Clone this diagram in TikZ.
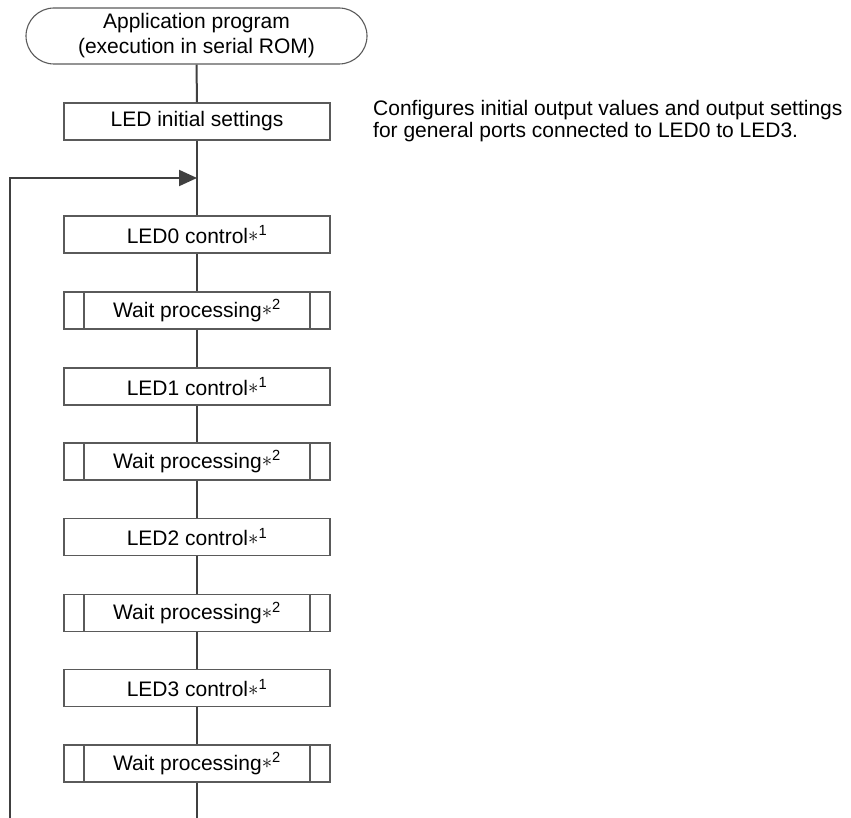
\documentclass[tikz,border=0pt]{standalone}
\usepackage{fontspec}
\setmainfont{Liberation Sans}
\usetikzlibrary{arrows.meta,positioning}

\definecolor{flowline}{HTML}{404040}
\definecolor{boxedge}{HTML}{5A5A5A}

\newcommand{\noteast}[1]{\raisebox{0.15ex}{$\ast$}\textsuperscript{#1}}

\tikzset{
  basefont/.style={font=\fontsize{21}{22}\selectfont},
  stepbox/.style={draw=boxedge, line width=1.1pt, minimum width=266pt,
    minimum height=37pt, inner sep=0pt, basefont},
  subbox/.style={stepbox, path picture={
    \draw[boxedge, line width=1.1pt]
      ([xshift=20pt]path picture bounding box.north west) --
      ([xshift=20pt]path picture bounding box.south west)
      ([xshift=-20pt]path picture bounding box.north east) --
      ([xshift=-20pt]path picture bounding box.south east);}},
  termbox/.style={draw=boxedge, line width=1.1pt, rounded corners=28pt,
    minimum width=341pt, minimum height=56pt, inner sep=0pt, align=center,
    font=\fontsize{21}{25}\selectfont},
  flow/.style={draw=flowline, line width=2pt},
  flowarrow/.style={flow, -{Triangle[length=18pt,width=16pt]}}
}

\begin{document}
\begin{tikzpicture}[x=1pt, y=-1pt]
  \useasboundingbox (0,0) rectangle (851,818);

  % start terminal and initial settings
  \node[termbox] (start) at (196.5,36) {Application program\\(execution in serial ROM)};
  \node[stepbox] (init) at (197,121.5) {LED initial settings};
  \node[basefont, anchor=west, align=left, inner sep=0pt] (note) at (373,121.5)
    {Configures initial output values and output settings\\for general ports connected to LED0 to LED3.};

  % main loop body
  \node[stepbox] (led0)  at (197,234.5) {LED0 control\noteast{1}};
  \node[subbox]  (wait0) at (197,310.5) {Wait processing\noteast{2}};
  \node[stepbox] (led1)  at (197,386.5) {LED1 control\noteast{1}};
  \node[subbox]  (wait1) at (197,461.5) {Wait processing\noteast{2}};
  \node[stepbox] (led2)  at (197,537)   {LED2 control\noteast{1}};
  \node[subbox]  (wait2) at (197,613)   {Wait processing\noteast{2}};
  \node[stepbox] (led3)  at (197,688)   {LED3 control\noteast{1}};
  \node[subbox]  (wait3) at (197,763.5) {Wait processing\noteast{2}};

  % loop return points
  \coordinate (merge)   at (197,178);
  \coordinate (tail)    at (197,818);
  \coordinate (backbot) at (10,818);
  \coordinate (backtop) at (10,178);

  % connectors
  \draw[flow] (start.south) -- (init.north);
  \draw[flow] (init.south) -- (led0.north);
  \draw[flow] (led0.south) -- (wait0.north);
  \draw[flow] (wait0.south) -- (led1.north);
  \draw[flow] (led1.south) -- (wait1.north);
  \draw[flow] (wait1.south) -- (led2.north);
  \draw[flow] (led2.south) -- (wait2.north);
  \draw[flow] (wait2.south) -- (led3.north);
  \draw[flow] (led3.south) -- (wait3.north);
  \draw[flow] (wait3.south) -- (tail);
  \draw[flowarrow] (backbot) -- (backtop) -- (merge);
\end{tikzpicture}
\end{document}
